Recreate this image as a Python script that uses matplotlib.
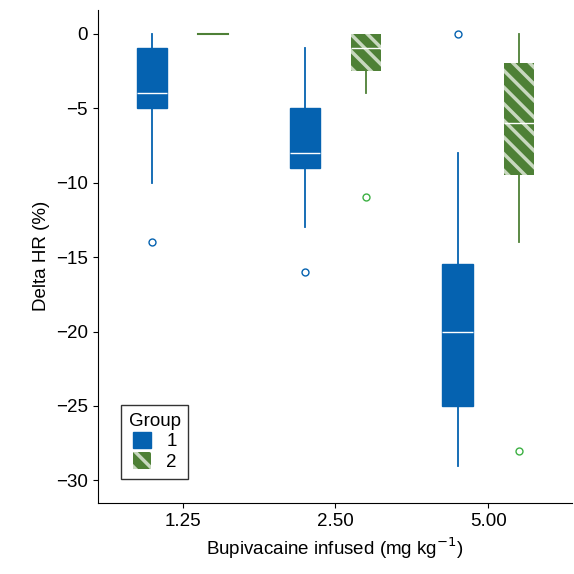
import matplotlib

matplotlib.use("Agg")
import matplotlib.pyplot as plt
from matplotlib.patches import Patch

doses = ["1.25", "2.50", "5.00"]
# per dose: (whislo, q1, med, q3, whishi, fliers)
group1 = [
    (-10, -5, -4, -1, 0, [-14]),
    (-13, -9, -8, -5, -1, [-16]),
    (-29, -25, -20, -15.5, -8, [0]),
]
group2 = [
    (0, 0, 0, 0, 0, []),
    (-4, -2.5, -1, 0, 0, [-11]),
    (-14, -9.5, -6, -2, 0, [-28]),
]

BLUE = "#0562b0"
GREEN = "#4e8036"
FS = 13.5

plt.rcParams["hatch.linewidth"] = 2.5
plt.rcParams["font.family"] = ["Liberation Sans", "DejaVu Sans"]


def stats(rows):
    return [
        {"whislo": a, "q1": b, "med": c, "q3": d, "whishi": e, "fliers": f}
        for a, b, c, d, e, f in rows
    ]


fig, ax = plt.subplots(figsize=(5.74, 5.74), dpi=100)
pos = list(range(len(doses)))

ax.bxp(
    stats(group1), positions=[p - 0.2 for p in pos], widths=0.2, patch_artist=True,
    showcaps=False,
    boxprops=dict(facecolor=BLUE, edgecolor=BLUE, linewidth=1),
    medianprops=dict(color="white", linewidth=1),
    whiskerprops=dict(color=BLUE, linewidth=1.3),
    flierprops=dict(marker="o", markerfacecolor="none", markeredgecolor=BLUE, markersize=5),
)
ax.bxp(
    stats(group2), positions=[p + 0.2 for p in pos], widths=0.2, patch_artist=True,
    showcaps=False,
    boxprops=dict(facecolor=GREEN, edgecolor="#c8d8bf", linewidth=0, hatch="\\\\"),
    medianprops=dict(color="white", linewidth=1),
    whiskerprops=dict(color=GREEN, linewidth=1.3),
    flierprops=dict(marker="o", markerfacecolor="none", markeredgecolor="#3cb043", markersize=5),
)
# flat box outline for the zero-width box
ax.plot([0.1, 0.3], [0, 0], color=GREEN, linewidth=1.5, zorder=5)

ax.set_xticks(pos)
ax.set_xticklabels(doses, fontsize=FS)
ax.set_xlim(-0.556, 2.55)
ax.set_ylim(-31.5, 1.6)
ax.set_yticks(range(-30, 1, 5))
ax.set_yticklabels(["\u2212" + str(-v) if v else "0" for v in range(-30, 1, 5)], fontsize=FS)
ax.spines["top"].set_visible(False)
ax.spines["right"].set_visible(False)
ax.set_xlabel("Bupivacaine infused (mg kg$^{-1}$)", fontsize=FS)
ax.set_ylabel("Delta HR (%)", fontsize=FS)

handles = [
    Patch(facecolor=BLUE, edgecolor=BLUE, label="1"),
    Patch(facecolor=GREEN, edgecolor="#c8d8bf", linewidth=0, hatch="\\\\", label="2"),
]
leg = ax.legend(handles=handles, title="Group", loc="lower left", fontsize=FS,
                title_fontsize=FS, fancybox=False, edgecolor="black",
                handlelength=1, handleheight=1, borderpad=0.4, labelspacing=0.1,
                bbox_to_anchor=(0.03, 0.03))
leg.get_frame().set_linewidth(1)

fig.subplots_adjust(left=0.17, right=0.997, top=0.983, bottom=0.124)
fig.savefig("out.png", dpi=100)
